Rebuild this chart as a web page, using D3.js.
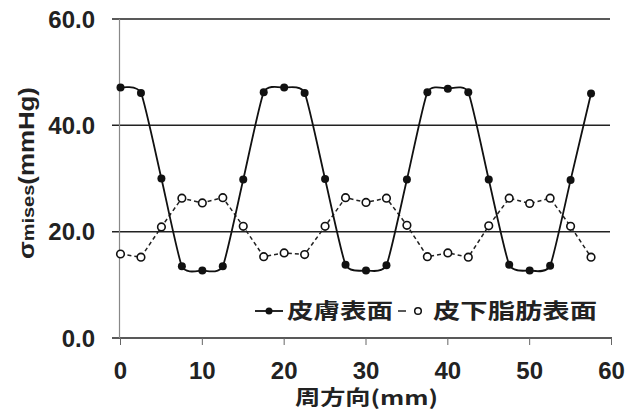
<!DOCTYPE html>
<html><head><meta charset="utf-8">
<script src="https://cdn.jsdelivr.net/npm/d3@7"></script>
<style>html,body{margin:0;padding:0;background:#fff;}svg{display:block;}</style>
</head><body>
<svg id="c" width="629" height="411"></svg>
<script>
const positions = [0,2.5,5,7.5,10,12.5,15,17.5,20,22.5,25,27.5,30,32.5,35,37.5,40,42.5,45,47.5,50,52.5,55,57.5];
const skinSurface = [47.1,46.1,30.0,13.5,12.7,13.5,29.8,46.2,47.1,46.1,29.9,13.8,12.7,13.7,29.8,46.2,46.9,46.2,29.8,13.8,12.7,13.6,29.7,46.0];
const fatSurface = [15.8,15.2,20.9,26.3,25.4,26.4,21.0,15.3,16.0,15.7,21.0,26.4,25.5,26.3,21.2,15.3,16.0,15.2,21.1,26.3,25.3,26.3,21.0,15.2];
const yTicks = [0,20,40,60];
const xTicks = [0,10,20,30,40,50,60];
const seriesNames = ["皮膚表面","皮下脂肪表面"];
const xTitle = "周方向(mm)";

const svg = d3.select("#c");
const x = d3.scaleLinear().domain([0,60]).range([120.5,611.5]);
const y = d3.scaleLinear().domain([0,60]).range([338,19]);
const latin = "'Liberation Sans', Arial, sans-serif";
const cjk = "'Noto Sans CJK JP', 'Noto Sans CJK SC', sans-serif";

// gridlines (extend left as tick marks)
svg.append("g").selectAll("line").data(yTicks).join("line")
  .attr("x1",112).attr("x2",d=>d===0?612:610)
  .attr("y1",d=>y(d)).attr("y2",d=>y(d))
  .attr("stroke","#222").attr("stroke-width",1.5);
// y axis line
svg.append("line").attr("x1",119.5).attr("x2",119.5).attr("y1",y(60)).attr("y2",y(0))
  .attr("stroke","#888").attr("stroke-width",1.2);
// x ticks
svg.append("g").selectAll("line").data(xTicks).join("line")
  .attr("x1",d=>x(d)).attr("x2",d=>x(d)).attr("y1",y(0)).attr("y2",y(0)+7)
  .attr("stroke","#666").attr("stroke-width",1);
// y tick labels
svg.append("g").selectAll("text").data(yTicks).join("text")
  .attr("x",95).attr("y",d=>y(d)+8.5).attr("text-anchor","end")
  .attr("font-family",latin).attr("font-weight","bold").attr("font-size",24).attr("fill","#222")
  .text(d=>d.toFixed(1));
// x tick labels
svg.append("g").selectAll("text").data(xTicks).join("text")
  .attr("x",d=>x(d)).attr("y",379).attr("text-anchor","middle")
  .attr("font-family",latin).attr("font-weight","bold").attr("font-size",24).attr("fill","#222")
  .text(d=>d);
// x title
svg.append("text").attr("x",295).attr("y",405)
  .attr("textLength",143).attr("lengthAdjust","spacingAndGlyphs")
  .attr("font-family",cjk).attr("font-weight","bold").attr("font-size",20).attr("fill","#222")
  .text(xTitle);
// y title
const yt = svg.append("text").attr("transform","translate(34,259) rotate(-90)")
  .attr("textLength",172).attr("lengthAdjust","spacingAndGlyphs")
  .attr("font-family",latin).attr("font-weight","bold").attr("font-size",22).attr("fill","#222");
yt.append("tspan").text("σ");
yt.append("tspan").attr("font-size",17).text("mises");
yt.append("tspan").text("(mmHg)");

const data1 = positions.map((p,i)=>[p,skinSurface[i]]);
const data2 = positions.map((p,i)=>[p,fatSurface[i]]);
const line = d3.line().x(d=>x(d[0])).y(d=>y(d[1])).curve(d3.curveCardinal.tension(0.45));
const line2 = d3.line().x(d=>x(d[0])).y(d=>y(d[1]));

svg.append("path").attr("d",line2(data2)).attr("fill","none")
  .attr("stroke","#222").attr("stroke-width",1.5).attr("stroke-dasharray","4,3");
svg.append("path").attr("d",line(data1)).attr("fill","none")
  .attr("stroke","#111").attr("stroke-width",1.8);
svg.append("g").selectAll("circle").data(data2).join("circle")
  .attr("cx",d=>x(d[0])).attr("cy",d=>y(d[1])).attr("r",3.8)
  .attr("fill","#fff").attr("stroke","#111").attr("stroke-width",1.6);
svg.append("g").selectAll("circle").data(data1).join("circle")
  .attr("cx",d=>x(d[0])).attr("cy",d=>y(d[1])).attr("r",4)
  .attr("fill","#111");

// legend
const ly = 311;
svg.append("line").attr("x1",255).attr("x2",283).attr("y1",ly).attr("y2",ly).attr("stroke","#111").attr("stroke-width",1.8);
svg.append("circle").attr("cx",269).attr("cy",ly).attr("r",3.5).attr("fill","#111");
svg.append("text").attr("x",287).attr("y",318).attr("textLength",106).attr("lengthAdjust","spacingAndGlyphs")
  .attr("font-family",cjk).attr("font-weight","bold").attr("font-size",21).attr("fill","#222").text(seriesNames[0]);
svg.append("line").attr("x1",398).attr("x2",406).attr("y1",ly).attr("y2",ly).attr("stroke","#222").attr("stroke-width",1.5);
svg.append("circle").attr("cx",418).attr("cy",ly).attr("r",3.3).attr("fill","#fff").attr("stroke","#111").attr("stroke-width",1.5);
svg.append("text").attr("x",433).attr("y",318).attr("textLength",164).attr("lengthAdjust","spacingAndGlyphs")
  .attr("font-family",cjk).attr("font-weight","bold").attr("font-size",21).attr("fill","#222").text(seriesNames[1]);
</script>
</body></html>
